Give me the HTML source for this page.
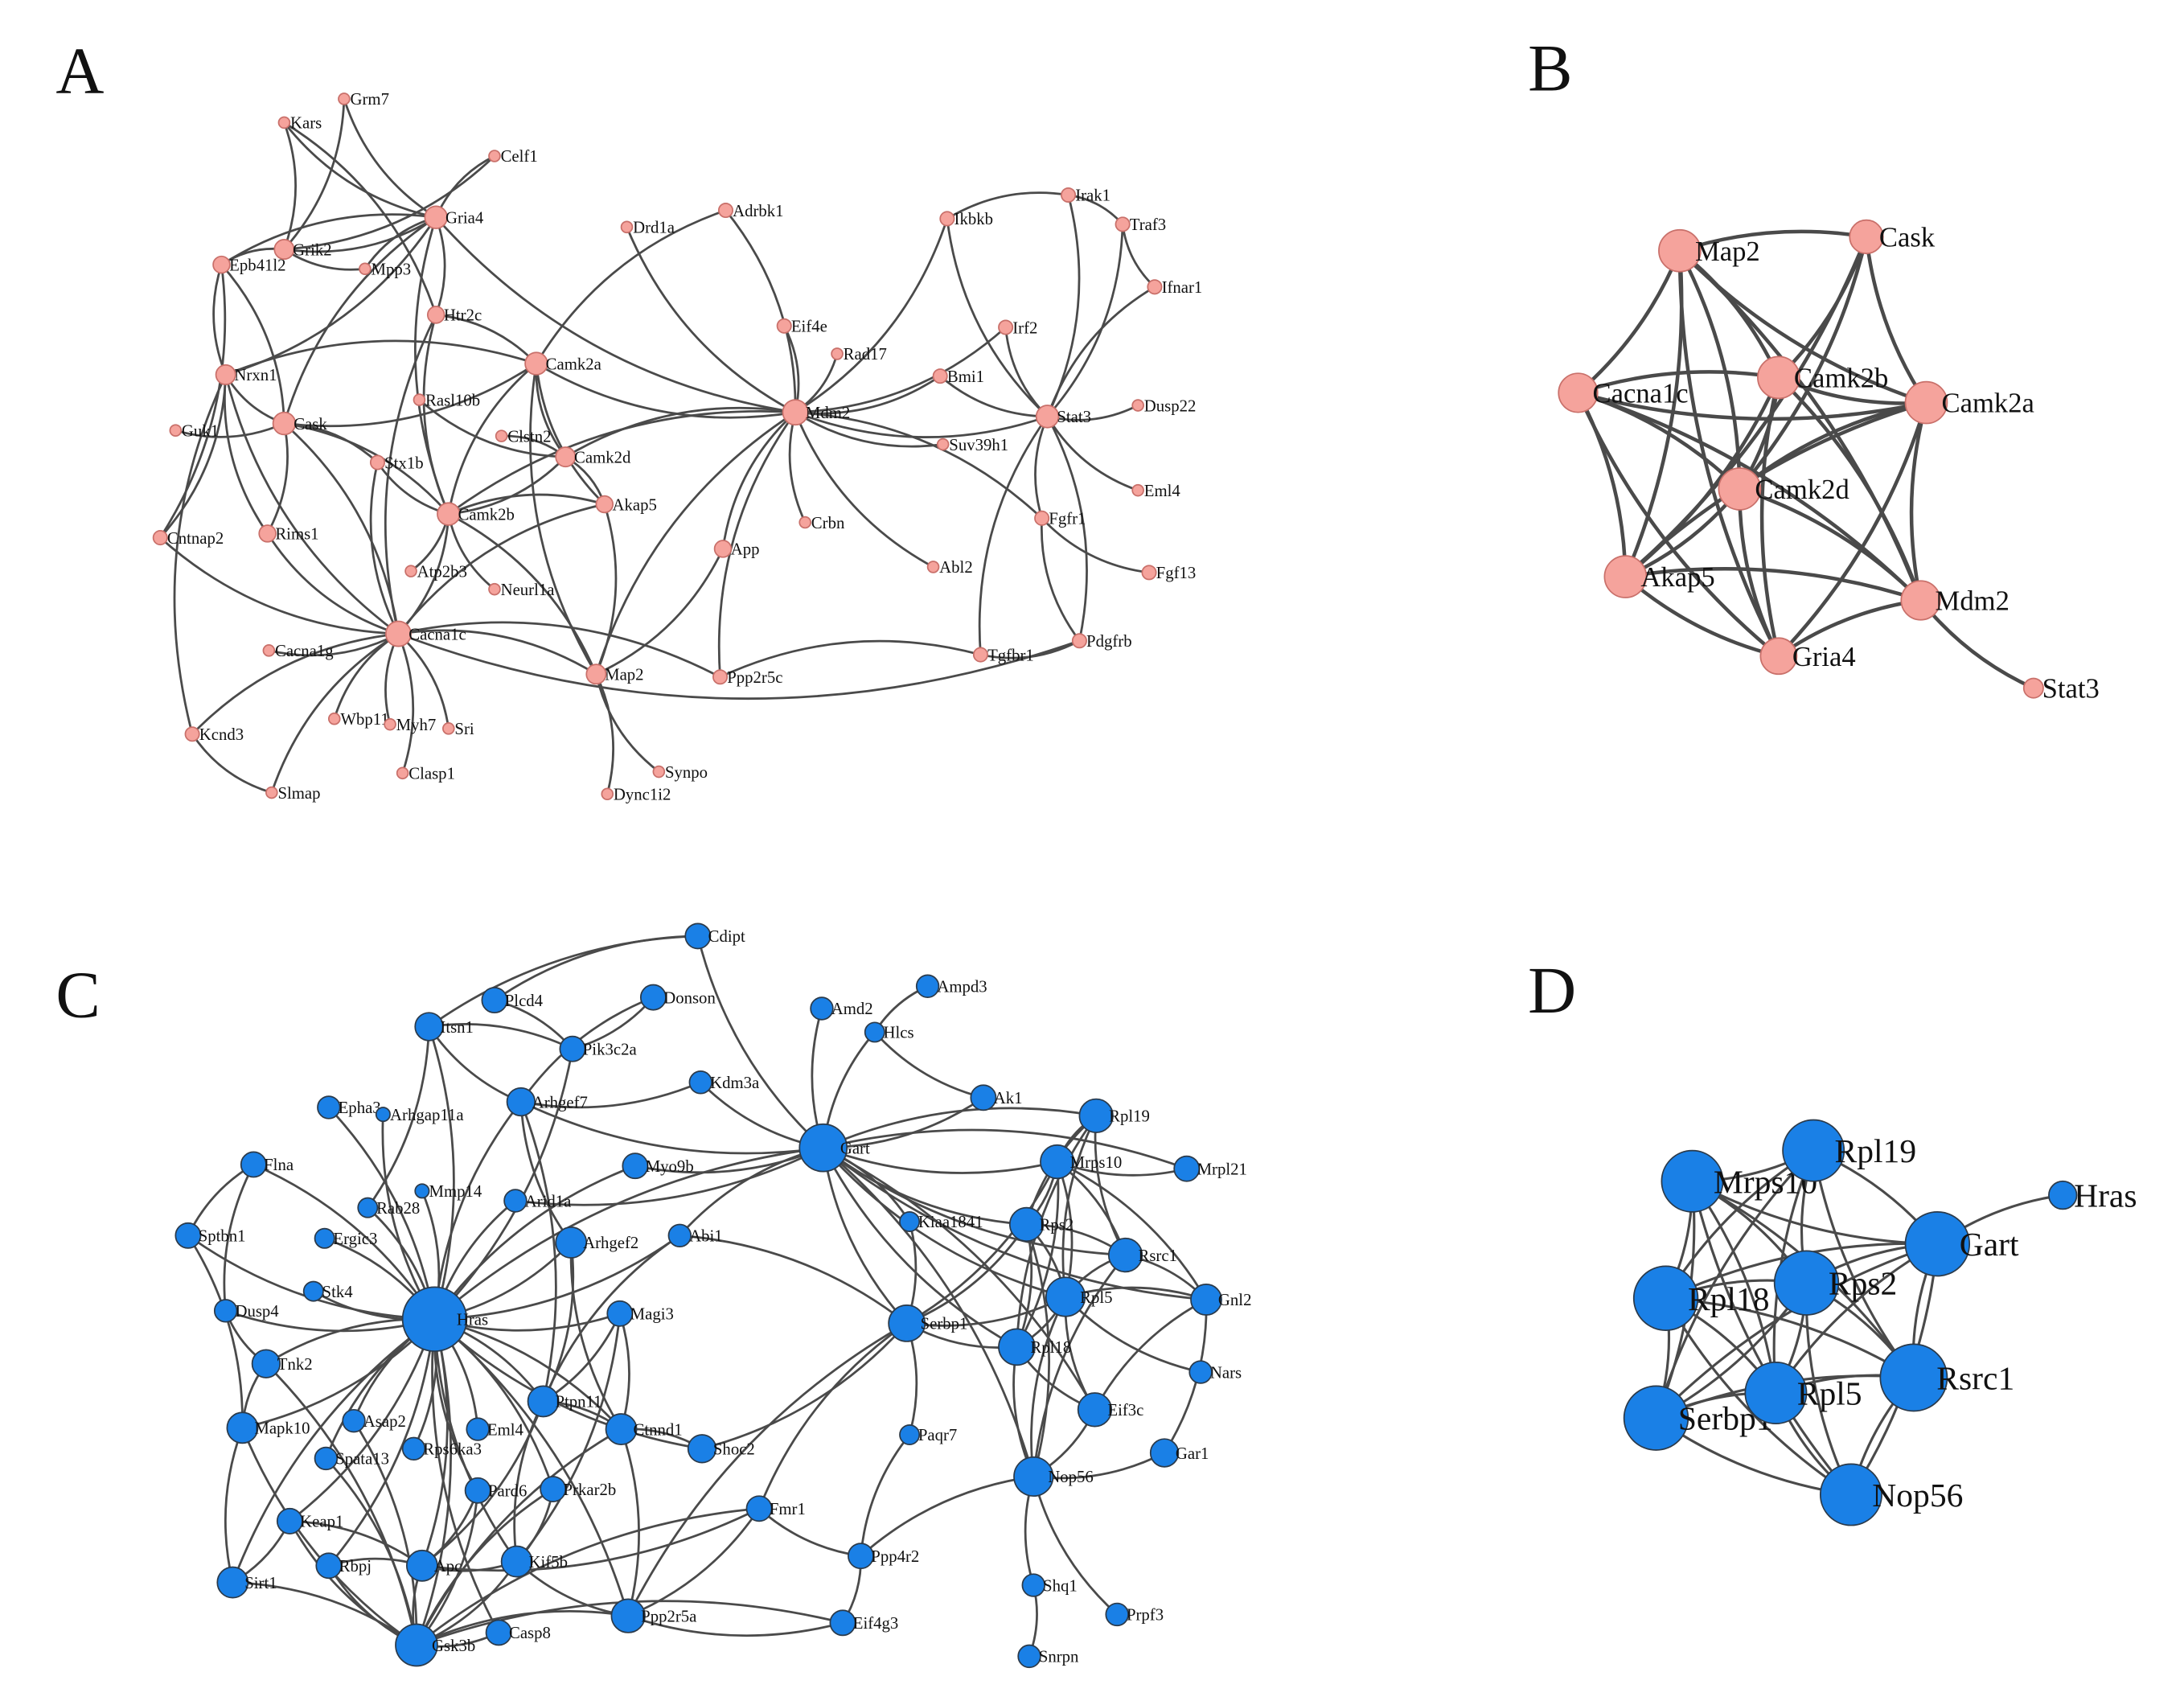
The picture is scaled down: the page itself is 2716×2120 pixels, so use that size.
<!DOCTYPE html>
<html><head><meta charset="utf-8"><style>
html,body{margin:0;padding:0;background:#fff;}
svg{display:block;}
text{font-family:"Liberation Serif",serif;fill:#111;}
</style></head><body>
<svg id="s" width="2716" height="2120" viewBox="0 0 1568 1224" xmlns="http://www.w3.org/2000/svg">
<rect width="1568" height="1224" fill="#fff"/>
<g id="E"></g><g id="N"></g>
<text x="40" y="67" font-size="48">A</text>
<text x="1097" y="65" font-size="48">B</text>
<text x="40" y="730" font-size="48">C</text>
<text x="1097" y="727" font-size="48">D</text>
</svg>
<script>
var NS="http://www.w3.org/2000/svg";
var E=document.getElementById("E"),N=document.getElementById("N");
function el(t,a,p){var e=document.createElementNS(NS,t);for(var k in a)e.setAttribute(k,a[k]);p.appendChild(e);return e;}
function hash(s){var h=0;for(var i=0;i<s.length;i++)h=(h*31+s.charCodeAt(i))|0;return h;}
function draw(nodes,edges,fill,stroke,fs,bend,ew){
  edges.forEach(function(e){
    var a=nodes[e[0]],b=nodes[e[1]];if(!a||!b)return;
    var dx=b[0]-a[0],dy=b[1]-a[1],L=Math.sqrt(dx*dx+dy*dy);
    var s=(hash(e[0]+e[1])&1)?1:-1;
    var mx=(a[0]+b[0])/2-dy/L*L*bend*s,my=(a[1]+b[1])/2+dx/L*L*bend*s;
    el("path",{d:"M"+a[0]+","+a[1]+" Q"+mx+","+my+" "+b[0]+","+b[1],fill:"none",stroke:"#4a4a4a","stroke-width":ew},E);
  });
  for(var k in nodes){var n=nodes[k];
    el("circle",{cx:n[0],cy:n[1],r:n[2],fill:fill,stroke:stroke,"stroke-width":1},N);
    var t=el("text",{x:n[0]+n[2]*0.6+2,y:n[1]+fs*0.35,"font-size":fs},N);t.textContent=k;}
}
function parse(s){return s.trim().split(/\s+/).map(function(x){return x.split("-");});}
// A
var A={Grm7:[247,71,4],Kars:[204,88,4],Celf1:[355,112,4],Gria4:[313,156,8],Drd1a:[450,163,4],Adrbk1:[521,151,5],Ikbkb:[680,157,5],Irak1:[767,140,5],Traf3:[806,161,5],Ifnar1:[829,206,5],Epb41l2:[159,190,6],Grik2:[204,179,7],Mpp3:[262,193,4],Htr2c:[313,226,6],Eif4e:[563,234,5],Irf2:[722,235,5],Nrxn1:[162,269,7],Camk2a:[385,261,8],Rad17:[601,254,4],Bmi1:[675,270,5],Stat3:[752,299,8],Dusp22:[817,291,4],Guk1:[126,309,4],Cask:[204,304,8],Rasl10b:[301,287,4],Clstn2:[360,313,4],Mdm2:[571,296,9],Suv39h1:[677,319,4],Stx1b:[271,332,5],Camk2d:[406,328,7],Akap5:[434,362,6],Eml4:[817,352,4],Cntnap2:[115,386,5],Rims1:[192,383,6],Camk2b:[322,369,8],Crbn:[578,375,4],Fgfr1:[748,372,5],App:[519,394,6],Atp2b3:[295,410,4],Neurl1a:[355,423,4],Abl2:[670,407,4],Fgf13:[825,411,5],Cacna1c:[286,455,9],Cacna1g:[193,467,4],Map2:[428,484,7],Ppp2r5c:[517,486,5],Tgfbr1:[704,470,5],Pdgfrb:[775,460,5],Kcnd3:[138,527,5],Wbp11:[240,516,4],Myh7:[280,520,4],Sri:[322,523,4],Clasp1:[289,555,4],Synpo:[473,554,4],Slmap:[195,569,4],Dync1i2:[436,570,4]};
var AE=parse("Gria4-Grm7 Gria4-Kars Gria4-Celf1 Gria4-Grik2 Gria4-Epb41l2 Gria4-Mpp3 Gria4-Htr2c Gria4-Mdm2 Gria4-Nrxn1 Gria4-Cask Gria4-Camk2b Grm7-Grik2 Kars-Grik2 Kars-Htr2c Celf1-Grik2 Grik2-Epb41l2 Grik2-Mpp3 Epb41l2-Nrxn1 Epb41l2-Cask Epb41l2-Cntnap2 Nrxn1-Cask Nrxn1-Rims1 Nrxn1-Camk2a Nrxn1-Cacna1c Cask-Camk2a Cask-Guk1 Cask-Rims1 Cask-Camk2b Cask-Cacna1c Cask-Stx1b Htr2c-Camk2b Htr2c-Cacna1c Htr2c-Camk2a Camk2a-Camk2d Camk2a-Camk2b Camk2a-Akap5 Camk2a-Adrbk1 Camk2a-Mdm2 Camk2a-Map2 Camk2d-Camk2b Camk2d-Akap5 Camk2d-Mdm2 Camk2b-Cacna1c Camk2b-Akap5 Camk2b-Map2 Camk2b-Atp2b3 Camk2b-Stx1b Camk2b-Mdm2 Cacna1c-Cacna1g Cacna1c-Kcnd3 Cacna1c-Wbp11 Cacna1c-Myh7 Cacna1c-Sri Cacna1c-Clasp1 Cacna1c-Slmap Cacna1c-Akap5 Cacna1c-Map2 Cacna1c-Ppp2r5c Cacna1c-Rims1 Cacna1c-Cntnap2 Cacna1c-Stx1b Akap5-Map2 Map2-Synpo Map2-Dync1i2 Map2-App Map2-Mdm2 Mdm2-Adrbk1 Mdm2-Drd1a Mdm2-Eif4e Mdm2-Rad17 Mdm2-Bmi1 Mdm2-Suv39h1 Mdm2-Crbn Mdm2-App Mdm2-Stat3 Mdm2-Ikbkb Mdm2-Abl2 Mdm2-Fgfr1 Mdm2-Irf2 Stat3-Irak1 Stat3-Traf3 Stat3-Ifnar1 Stat3-Irf2 Stat3-Bmi1 Stat3-Dusp22 Stat3-Eml4 Stat3-Fgfr1 Stat3-Ikbkb Stat3-Tgfbr1 Stat3-Pdgfrb Irak1-Traf3 Irak1-Ikbkb Fgfr1-Fgf13 Fgfr1-Pdgfrb Ppp2r5c-Tgfbr1 Tgfbr1-Pdgfrb Cacna1c-Pdgfrb Ppp2r5c-Mdm2 Clstn2-Camk2d Rasl10b-Camk2d Kcnd3-Nrxn1 Cntnap2-Nrxn1 Slmap-Kcnd3 Neurl1a-Camk2b Traf3-Ifnar1");
draw(A,AE,"#f5a39c","#c9706a",12,0.18,1.6);
// B
var B={Map2:[1206,180,15],Cask:[1340,170,12],Cacna1c:[1133,282,14],Camk2b:[1277,271,15],Camk2a:[1383,289,15],Camk2d:[1249,351,15],Akap5:[1167,414,15],Mdm2:[1379,431,14],Gria4:[1277,471,13],Stat3:[1460,494,7]};
var BE=parse("Map2-Cask Map2-Cacna1c Map2-Camk2b Map2-Camk2a Map2-Camk2d Map2-Akap5 Map2-Mdm2 Map2-Gria4 Cask-Camk2b Cask-Camk2d Cask-Camk2a Cask-Akap5 Cacna1c-Camk2b Cacna1c-Camk2a Cacna1c-Camk2d Cacna1c-Akap5 Cacna1c-Gria4 Cacna1c-Mdm2 Camk2b-Camk2a Camk2b-Camk2d Camk2b-Akap5 Camk2b-Mdm2 Camk2b-Gria4 Camk2a-Camk2d Camk2a-Akap5 Camk2a-Mdm2 Camk2a-Gria4 Camk2d-Akap5 Camk2d-Mdm2 Camk2d-Gria4 Akap5-Mdm2 Akap5-Gria4 Mdm2-Gria4 Mdm2-Stat3");
draw(B,BE,"#f5a39c","#c9706a",20,0.12,2.6);
// C
var C={Cdipt:[501,672,9],Plcd4:[355,718,9],Donson:[469,716,9],Amd2:[590,724,8],Ampd3:[666,708,8],Hlcs:[628,741,7],Itsn1:[308,737,10],Pik3c2a:[411,753,9],Kdm3a:[503,777,8],Ak1:[706,788,9],Epha3:[236,795,8],Arhgap11a:[275,800,5],Arhgef7:[374,791,10],Rpl19:[787,801,12],Flna:[182,836,9],Mmp14:[303,855,5],Rab28:[264,867,7],Arid1a:[370,862,8],Myo9b:[456,837,9],Gart:[591,824,17],Mrps10:[759,834,12],Mrpl21:[852,839,9],Sptbn1:[135,887,9],Ergic3:[233,889,7],Arhgef2:[410,892,11],Abi1:[488,887,8],Kiaa1841:[653,877,7],Rps2:[737,879,12],Rsrc1:[808,901,12],Stk4:[225,927,7],Hras:[312,947,23],Dusp4:[162,941,8],Magi3:[445,943,9],Serbp1:[651,950,13],Rpl5:[765,931,14],Gnl2:[866,933,11],Tnk2:[191,979,10],Rpl18:[730,967,13],Nars:[862,985,8],Ptpn11:[390,1006,11],Asap2:[254,1020,8],Mapk10:[174,1025,11],Spata13:[234,1047,8],Eml4:[343,1026,8],Rps6ka3:[297,1040,8],Ctnnd1:[446,1026,11],Eif3c:[786,1012,12],Shoc2:[504,1040,10],Paqr7:[653,1030,7],Gar1:[836,1043,10],Nop56:[742,1060,14],Pard6:[343,1070,9],Prkar2b:[397,1069,9],Fmr1:[545,1083,9],Keap1:[208,1092,9],Rbpj:[236,1124,9],Apc:[303,1124,11],Kif5b:[371,1121,11],Ppp4r2:[618,1117,9],Shq1:[742,1138,8],Sirt1:[167,1136,11],Ppp2r5a:[451,1160,12],Eif4g3:[605,1165,9],Prpf3:[802,1159,8],Casp8:[358,1172,9],Gsk3b:[299,1181,15],Snrpn:[739,1189,8]};
var CE=parse("Hras-Itsn1 Hras-Epha3 Hras-Arhgap11a Hras-Arhgef7 Hras-Flna Hras-Rab28 Hras-Mmp14 Hras-Arid1a Hras-Myo9b Hras-Ergic3 Hras-Arhgef2 Hras-Stk4 Hras-Dusp4 Hras-Magi3 Hras-Tnk2 Hras-Ptpn11 Hras-Asap2 Hras-Mapk10 Hras-Spata13 Hras-Rps6ka3 Hras-Eml4 Hras-Ctnnd1 Hras-Pard6 Hras-Prkar2b Hras-Apc Hras-Kif5b Hras-Gsk3b Hras-Keap1 Hras-Rbpj Hras-Sirt1 Hras-Abi1 Hras-Pik3c2a Hras-Gart Hras-Casp8 Hras-Ppp2r5a Hras-Shoc2 Hras-Sptbn1 Gart-Cdipt Gart-Amd2 Gart-Hlcs Gart-Kdm3a Gart-Ak1 Gart-Rpl19 Gart-Mrps10 Gart-Rps2 Gart-Rpl5 Gart-Rpl18 Gart-Serbp1 Gart-Rsrc1 Gart-Kiaa1841 Gart-Nop56 Gart-Arid1a Gart-Abi1 Gart-Myo9b Gart-Arhgef7 Gart-Gnl2 Gart-Mrpl21 Gart-Eif3c Rpl19-Mrps10 Rpl19-Rps2 Rpl19-Rpl5 Rpl19-Rsrc1 Rpl19-Rpl18 Mrps10-Rps2 Mrps10-Rpl5 Mrps10-Rpl18 Mrps10-Rsrc1 Mrps10-Serbp1 Mrps10-Mrpl21 Mrps10-Gnl2 Rps2-Rpl5 Rps2-Rpl18 Rps2-Serbp1 Rps2-Rsrc1 Rpl5-Rpl18 Rpl5-Serbp1 Rpl5-Rsrc1 Rpl5-Nop56 Rpl5-Gnl2 Rpl5-Nars Rpl5-Eif3c Rpl18-Serbp1 Rpl18-Nop56 Rpl18-Eif3c Rsrc1-Gnl2 Rsrc1-Nop56 Gnl2-Eif3c Gnl2-Gar1 Eif3c-Nop56 Serbp1-Kiaa1841 Gsk3b-Apc Gsk3b-Kif5b Gsk3b-Sirt1 Gsk3b-Mapk10 Gsk3b-Keap1 Gsk3b-Rbpj Gsk3b-Casp8 Gsk3b-Ppp2r5a Gsk3b-Tnk2 Gsk3b-Pard6 Gsk3b-Prkar2b Gsk3b-Spata13 Gsk3b-Asap2 Gsk3b-Ctnnd1 Gsk3b-Eif4g3 Gsk3b-Fmr1 Cdipt-Plcd4 Cdipt-Itsn1 Plcd4-Pik3c2a Donson-Pik3c2a Donson-Arhgef7 Itsn1-Pik3c2a Ampd3-Hlcs Hlcs-Ak1 Flna-Sptbn1 Flna-Dusp4 Sptbn1-Mapk10 Dusp4-Tnk2 Tnk2-Mapk10 Mapk10-Sirt1 Serbp1-Shoc2 Serbp1-Fmr1 Serbp1-Ppp2r5a Serbp1-Paqr7 Paqr7-Ppp4r2 Ppp4r2-Fmr1 Ppp4r2-Nop56 Ppp4r2-Eif4g3 Nop56-Shq1 Shq1-Snrpn Nop56-Prpf3 Nop56-Gar1 Nop56-Rps2 Fmr1-Ppp2r5a Fmr1-Apc Shoc2-Ctnnd1 Ptpn11-Magi3 Ptpn11-Ctnnd1 Ptpn11-Arhgef2 Ctnnd1-Magi3 Apc-Kif5b Kif5b-Ppp2r5a Eif4g3-Ppp2r5a Abi1-Ptpn11 Itsn1-Arhgef7 Itsn1-Rab28 Arhgef7-Arhgef2 Arhgef7-Ptpn11 Kdm3a-Arhgef7 Kif5b-Prkar2b Apc-Pard6 Ptpn11-Kif5b Ptpn11-Apc Ctnnd1-Ppp2r5a Keap1-Apc Rbpj-Apc Sirt1-Keap1 Arhgef2-Ctnnd1 Magi3-Kif5b Abi1-Serbp1");
draw(C,CE,"#1a80e6","#2b3a4a",12,0.15,1.6);
// D
var D={Mrps10:[1215,848,22],Rpl19:[1302,826,22],Hras:[1481,858,10],Gart:[1391,893,23],Rpl18:[1196,932,23],Rps2:[1297,921,23],Serbp1:[1189,1018,23],Rpl5:[1275,1000,22],Rsrc1:[1374,989,24],Nop56:[1329,1073,22]};
var DE=parse("Mrps10-Rpl19 Mrps10-Gart Mrps10-Rpl18 Mrps10-Rps2 Mrps10-Serbp1 Mrps10-Rpl5 Mrps10-Rsrc1 Mrps10-Nop56 Rpl19-Gart Rpl19-Rpl18 Rpl19-Rps2 Rpl19-Serbp1 Rpl19-Rpl5 Rpl19-Rsrc1 Gart-Hras Gart-Rpl18 Gart-Rps2 Gart-Serbp1 Gart-Rpl5 Gart-Rsrc1 Gart-Nop56 Rpl18-Rps2 Rpl18-Serbp1 Rpl18-Rpl5 Rpl18-Rsrc1 Rpl18-Nop56 Rps2-Serbp1 Rps2-Rpl5 Rps2-Rsrc1 Rps2-Nop56 Serbp1-Rpl5 Serbp1-Rsrc1 Serbp1-Nop56 Rpl5-Rsrc1 Rpl5-Nop56 Rsrc1-Nop56");
draw(D,DE,"#1a80e6","#2b3a4a",24,0.12,1.8);
</script>
</body></html>
